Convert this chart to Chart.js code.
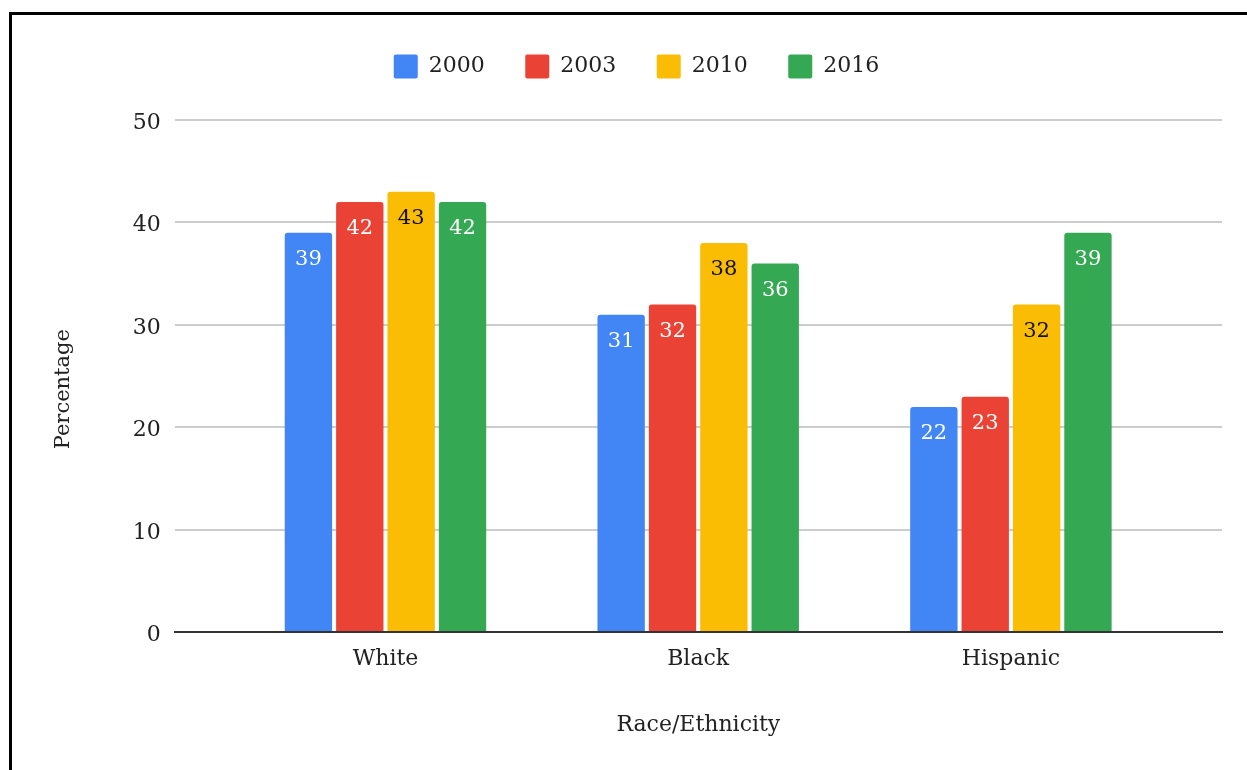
<!DOCTYPE html>
<html>
<head>
<meta charset="utf-8">
<script src="https://cdn.jsdelivr.net/npm/chart.js@4.4.1/dist/chart.umd.min.js"></script>
<style>
  html, body { margin: 0; padding: 0; background: #fff; overflow: hidden; }
  #wrap { position: relative; width: 1247px; height: 770px; }
  #c { position: absolute; left: 0; top: 0; }
  #frame {
    position: absolute; left: 9px; top: 12px; width: 1400px; height: 900px;
    border-left: 3px solid #000; border-top: 3px solid #000; pointer-events: none;
  }
</style>
</head>
<body>
<div id="wrap">
  <canvas id="c" width="1247" height="770"></canvas>
  <div id="frame"></div>
</div>
<script>
// Share (%) by group and survey year
const categories = ['White', 'Black', 'Hispanic'];
const years = ['2000', '2003', '2010', '2016'];
const values2000 = [39, 31, 22];
const values2003 = [42, 32, 23];
const values2010 = [43, 38, 32];
const values2016 = [42, 36, 39];
const yTicks = [0, 10, 20, 30, 40, 50];

const seriesValues = [values2000, values2003, values2010, values2016];
const seriesColors = ['#4285F4', '#EA4335', '#FBBC04', '#34A853'];
const valueLabelColors = ['#ffffff', '#ffffff', '#111111', '#ffffff'];

const FONT = '"DejaVu Serif", "Liberation Serif", serif';
const TEXT = '#222222';
const PAD_TOP = 14;
const PLOT_TOP = 120;

// Value printed inside the top of every bar
const valueLabels = {
  id: 'valueLabels',
  afterDatasetsDraw(chart) {
    const ctx = chart.ctx;
    ctx.save();
    ctx.font = '21px ' + FONT;
    ctx.textAlign = 'center';
    ctx.textBaseline = 'middle';
    chart.data.datasets.forEach((ds, di) => {
      const meta = chart.getDatasetMeta(di);
      ctx.fillStyle = valueLabelColors[di];
      meta.data.forEach((bar, i) => {
        ctx.fillText(String(ds.data[i].y), bar.x, bar.y + 27);
      });
    });
    ctx.restore();
  }
};

// Vertical axis title
const yTitle = {
  id: 'yTitle',
  afterDraw(chart) {
    const ctx = chart.ctx;
    const area = chart.chartArea;
    ctx.save();
    ctx.font = '21px ' + FONT;
    ctx.fillStyle = TEXT;
    ctx.textAlign = 'center';
    ctx.textBaseline = 'middle';
    ctx.translate(64, (area.top + area.bottom) / 2 + 13);
    ctx.rotate(-Math.PI / 2);
    ctx.fillText('Percentage', 0, 0);
    ctx.restore();
  }
};

// Leave room between the legend row and the plot
const legendSpacing = {
  id: 'legendSpacing',
  beforeLayout(chart) {
    const lg = chart.legend;
    if (lg && !lg.__spaced) {
      const fit = lg.fit;
      lg.fit = function () { fit.call(this); this.height = PLOT_TOP - PAD_TOP; };
      lg.__spaced = true;
    }
  }
};

const datasets = years.map((year, s) => ({
  label: year,
  data: seriesValues[s].map((v, i) => ({ x: i, y: v })),
  backgroundColor: seriesColors[s],
  borderWidth: 0,
  borderRadius: 3,
  borderSkipped: 'bottom',
  categoryPercentage: 0.657,
  barPercentage: 0.922
}));

new Chart(document.getElementById('c'), {
  type: 'bar',
  data: { datasets },
  plugins: [legendSpacing, valueLabels, yTitle],
  options: {
    responsive: false,
    animation: false,
    devicePixelRatio: 1,
    layout: { padding: { left: 51, top: PAD_TOP, right: 25, bottom: 0 } },
    plugins: {
      tooltip: { enabled: false },
      legend: {
        position: 'top',
        align: 'center',
        labels: {
          font: { family: FONT, size: 22 },
          color: TEXT,
          boxWidth: 24,
          boxHeight: 24,
          padding: 40.5,
          useBorderRadius: true,
          borderRadius: 2
        }
      }
    },
    scales: {
      x: {
        type: 'linear',
        min: -0.674,
        max: 2.675,
        offset: false,
        grid: { display: false, drawTicks: false },
        border: { display: true, color: '#333333', width: 2, z: 1 },
        afterBuildTicks(scale) {
          scale.ticks = categories.map((_, i) => ({ value: i }));
        },
        afterFit(scale) { scale.height = 137.7; },
        ticks: {
          autoSkip: false,
          maxRotation: 0,
          padding: 14,
          color: TEXT,
          font: { family: FONT, size: 22 },
          callback: (v) => categories[v]
        },
        title: {
          display: true,
          text: 'Race/Ethnicity',
          color: TEXT,
          font: { family: FONT, size: 22 },
          padding: { top: 0, bottom: 32 }
        }
      },
      y: {
        min: yTicks[0],
        max: yTicks[yTicks.length - 1],
        afterBuildTicks(scale) {
          scale.ticks = yTicks.map(v => ({ value: v }));
        },
        afterFit(scale) { scale.width = 174.7 - 51; },
        grid: { color: '#cccccc', lineWidth: 2, drawTicks: false },
        border: { display: false },
        ticks: {
          padding: 14,
          labelOffset: 3,
          color: TEXT,
          font: { family: FONT, size: 22 }
        },
        title: { display: false }
      }
    }
  }
});
</script>
</body>
</html>
